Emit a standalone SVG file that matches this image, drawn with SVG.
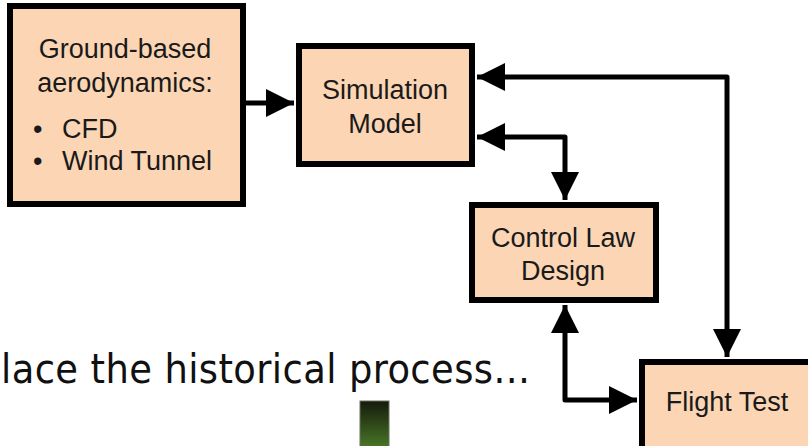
<svg xmlns="http://www.w3.org/2000/svg" width="808" height="446" viewBox="0 0 808 446">
<defs>
<style>
.box{fill:#FCD5B4;stroke:#000;stroke-width:6}
.t{font-family:"Liberation Sans",Arial,sans-serif;font-size:27px;fill:#1a1a1a;text-anchor:middle}
.tl{font-family:"Liberation Sans",Arial,sans-serif;font-size:27px;fill:#1a1a1a}
.c{fill:none;stroke:#000;stroke-width:5;stroke-linejoin:round}
.big{font-family:"DejaVu Sans Condensed","DejaVu Sans",sans-serif;font-stretch:condensed;font-size:41px;letter-spacing:0.4px;fill:#111}
</style>
<marker id="ah" viewBox="0 0 10 10" refX="10" refY="5" markerWidth="5.6" markerHeight="6" markerUnits="strokeWidth" orient="auto-start-reverse">
<path d="M0,0 L10,5 L0,10 z" fill="#000"/>
</marker>
<linearGradient id="g" x1="0" y1="0" x2="0" y2="1">
<stop offset="0" stop-color="#151a0c"/>
<stop offset="1" stop-color="#4b7a28"/>
</linearGradient>
</defs>
<text class="big" x="1" y="383">lace the historical process…</text>
<rect x="360" y="401" width="29" height="48" fill="url(#g)" stroke="#6b7060" stroke-width="1"/>
<g id="connectors">
<path class="c" d="M246,103 H294" marker-end="url(#ah)"/>
<path class="c" d="M727,357 V77 H477" marker-start="url(#ah)" marker-end="url(#ah)"/>
<path class="c" d="M477,137 H565 V200" marker-start="url(#ah)" marker-end="url(#ah)"/>
<path class="c" d="M565,305 V400 H637" marker-start="url(#ah)" marker-end="url(#ah)"/>
</g>
<g id="ground">
<rect class="box" x="10" y="6" width="233" height="198"/>
<text class="t" x="125" y="58">Ground-based</text>
<text class="t" x="125" y="92">aerodynamics:</text>
<text class="tl" x="33" y="138">•</text>
<text class="tl" x="62" y="138">CFD</text>
<text class="tl" x="33" y="170">•</text>
<text class="tl" x="62" y="170">Wind Tunnel</text>
</g>
<g id="sim">
<rect class="box" x="299" y="46" width="173" height="118"/>
<text class="t" x="385" y="99">Simulation</text>
<text class="t" x="385" y="133">Model</text>
</g>
<g id="control">
<rect class="box" x="472" y="205" width="184" height="95"/>
<text class="t" x="563" y="247">Control Law</text>
<text class="t" x="563" y="280">Design</text>
</g>
<g id="flight">
<rect class="box" x="642" y="362" width="180" height="100"/>
<text class="t" x="727" y="411">Flight Test</text>
</g>
</svg>
